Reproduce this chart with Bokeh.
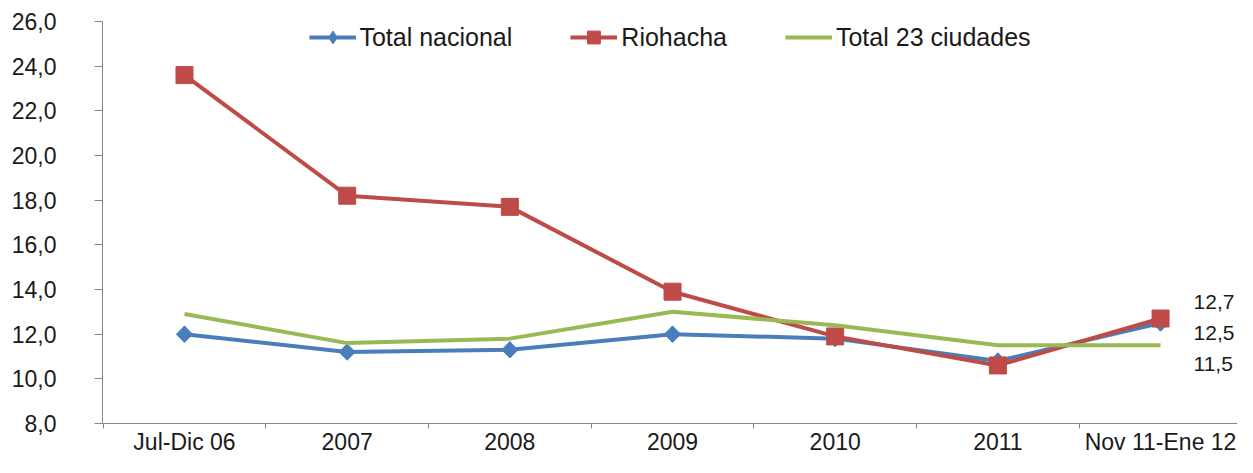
from bokeh.plotting import figure
from bokeh.models import Range1d, FixedTicker, ColumnDataSource, Legend, LegendItem
from bokeh.embed import file_html
from bokeh.resources import INLINE
import math

categories = ["Jul-Dic 06", "2007", "2008", "2009", "2010", "2011", "Nov 11-Ene 12"]
total_nacional = [12.0, 11.2, 11.3, 12.0, 11.8, 10.8, 12.5]
riohacha = [23.6, 18.2, 17.7, 13.9, 11.9, 10.6, 12.7]
total_23 = [12.9, 11.6, 11.8, 13.0, 12.4, 11.5, 11.5]
y_ticks = [8, 10, 12, 14, 16, 18, 20, 22, 24, 26]

BLUE = "#4A7EBB"
RED = "#BE4B48"
GREEN = "#98B954"
AXIS = "#868686"
FONT = "Liberation Sans"
TXT = "#1a1a1a"

xs = list(range(len(categories)))

p = figure(width=1237, height=457, output_backend="svg", toolbar_location=None,
           x_range=Range1d(-0.504, 6.473), y_range=Range1d(8, 26),
           min_border_left=102, min_border_top=21, min_border_bottom=0, min_border_right=0)
p.outline_line_color = None
p.xgrid.visible = False
p.ygrid.visible = False
p.background_fill_color = "white"

# x axis
xa = p.xaxis[0]
xa.ticker = FixedTicker(ticks=xs, minor_ticks=[i - 0.5 for i in xs])
xa.major_label_overrides = {i: c for i, c in zip(xs, categories)}
xa.major_tick_line_color = None
xa.major_tick_out = 0
xa.major_tick_in = 0
xa.minor_tick_out = 5
xa.minor_tick_in = 0
xa.minor_tick_line_color = AXIS
xa.axis_line_color = AXIS
xa.major_label_standoff = 0
xa.major_label_text_font = FONT
xa.major_label_text_font_size = "23px"
xa.major_label_text_color = TXT

# y axis
ya = p.yaxis[0]
ya.ticker = FixedTicker(ticks=y_ticks)
ya.major_label_overrides = {t: f"{t:.1f}".replace(".", ",") for t in y_ticks}
ya.major_tick_out = 8
ya.major_tick_in = 0
ya.minor_tick_line_color = None
ya.major_tick_line_color = AXIS
ya.axis_line_color = AXIS
ya.major_label_standoff = 38
ya.major_label_text_font = FONT
ya.major_label_text_font_size = "23px"
ya.major_label_text_color = TXT

# series
l1 = p.line(xs, total_nacional, line_color=BLUE, line_width=4)
m1_leg = p.scatter(xs, total_nacional, marker="diamond", size=16,
                   fill_color=BLUE, line_color=BLUE)
m1 = p.scatter(xs, total_nacional, marker="square", angle=math.pi / 4, size=11.5,
               fill_color=BLUE, line_color=BLUE)
l2 = p.line(xs, riohacha, line_color=RED, line_width=4)
m2 = p.scatter(xs, riohacha, marker="square", size=17, fill_color=RED, line_color=RED)
l3 = p.line(xs, total_23, line_color=GREEN, line_width=4)

# end labels
last = len(categories) - 1
lab_src = ColumnDataSource(dict(
    x=[last, last, last],
    y=[riohacha[-1], total_nacional[-1], total_23[-1]],
    t=[f"{v:.1f}".replace(".", ",") for v in (riohacha[-1], total_nacional[-1], total_23[-1])],
    dy=[-17, 10, 19],
))
p.text(x="x", y="y", text="t", source=lab_src, x_offset=33, y_offset="dy",
       text_align="left", text_baseline="middle", text_font_size="21px",
       text_font={"value": FONT}, text_color=TXT)

legend = Legend(items=[
    LegendItem(label="Total nacional", renderers=[l1, m1_leg]),
    LegendItem(label="Riohacha", renderers=[l2, m2]),
    LegendItem(label="Total 23 ciudades", renderers=[l3]),
], orientation="horizontal", location="top_center")
legend.border_line_color = None
legend.background_fill_alpha = 0
legend.padding = 0
legend.margin = 0
legend.spacing = 58
legend.glyph_width = 47
legend.glyph_height = 32
legend.label_standoff = 4
legend.label_text_font = FONT
legend.label_text_font_size = "25px"
legend.label_text_color = TXT
p.add_layout(legend)

open("out.html", "w").write(file_html(p, INLINE))
